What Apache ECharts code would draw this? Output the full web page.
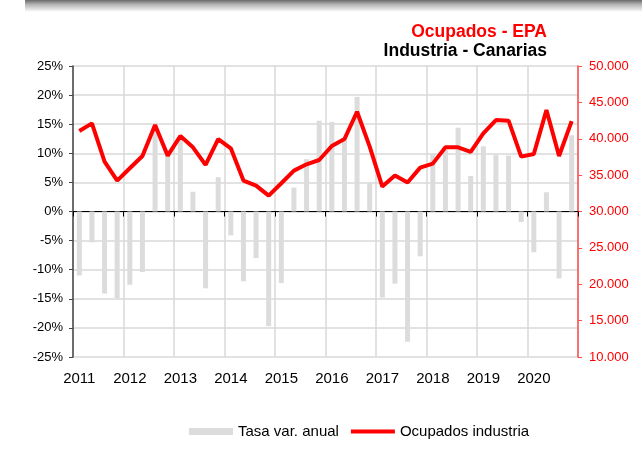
<!DOCTYPE html>
<html><head><meta charset="utf-8">
<script src="https://cdn.jsdelivr.net/npm/echarts@6/dist/echarts.min.js"></script>
<style>html,body{margin:0;padding:0;background:#fff}#c{width:642px;height:452px}</style>
</head><body><div id="c"></div>
<script>
const years = ['2011','2012','2013','2014','2015','2016','2017','2018','2019','2020'];
const quarters = ['I','II','III','IV'];
const categories = [];
years.forEach(y => quarters.forEach(q => categories.push(y + ' ' + q)));
const tasaVar = [ -11.0, -5.3, -14.1, -14.9,  -12.6, -10.4, 14.5, 9.8,  12.3, 3.4, -13.2, 5.9,
  -4.1, -12.0, -8.0, -19.7,  -12.3, 4.1, 9.0, 15.6,  15.4, 12.5, 19.7, 5.0,
  -14.8, -12.4, -22.4, -7.7,  10.0, 10.6, 14.4, 6.1,  11.2, 9.7, 9.6, -1.8,
  -7.0, 3.3, -11.5, 13.1 ];
const ocupados = [ 41060, 42110, 36850, 34250,  35940, 37630, 41880, 37680,  40370, 38820, 36400, 39960,
  38680, 34250, 33560, 32190,  33880, 35620, 36490, 37080,  39000, 39960, 43710, 38910,
  33430, 34940, 33980, 36030,  36580, 38820, 38820, 38180,  40740, 42570, 42480, 37540,
  37910, 43940, 37630, 42430 ];
const leftTicks = {min:-25, max:25, step:5};
const rightTicks = {min:10000, max:50000, step:5000};

const chart = echarts.init(document.getElementById('c'), null, {renderer:'canvas'});
const fmtThousands = v => String(v).replace(/\B(?=(\d{3})+(?!\d))/g, '.');
chart.setOption({
  animation:false,
  backgroundColor:'#fff',
  textStyle:{fontFamily:'Liberation Sans, Arial, sans-serif'},
  graphic:[
    {type:'rect', left:25, top:0, shape:{width:617, height:12}, z:0,
     style:{fill:new echarts.graphic.LinearGradient(0,0,0,1,[{offset:0,color:'#6a6a6a'},{offset:0.35,color:'#b0b0b0'},{offset:1,color:'#ffffff'}])}},
    {type:'text', right:95, top:23, z:10, style:{text:'Ocupados - EPA', fill:'#ff0000', font:'bold 17.5px "Liberation Sans", Arial, sans-serif', textAlign:'right'}},
    {type:'text', right:95, top:42, z:10, style:{text:'Industria - Canarias', fill:'#000', font:'bold 17.5px "Liberation Sans", Arial, sans-serif', textAlign:'right'}}
  ],
  grid:{left:73, right:64, top:66, bottom:95, containLabel:false},
  legend:{
    left:189, top:424, padding:0, itemWidth:44, itemHeight:7, itemGap:12,
    textStyle:{fontSize:15, color:'#000'},
    data:[{name:'Tasa var. anual', icon:'rect'},
          {name:'Ocupados industria', icon:'path://M0,0 L44,0 L44,4 L0,4 Z'}]
  },
  xAxis:[
    {type:'category', data:categories, boundaryGap:true, position:'bottom',
     axisLine:{show:false, onZero:false}, axisTick:{show:false},
     axisLabel:{interval:3, fontSize:15, color:'#000', margin:14, formatter:v => v.split(' ')[0]},
     splitLine:{show:true, interval:3, lineStyle:{color:'#d9d9d9', width:1.5}}},
    {type:'category', data:categories, boundaryGap:true, position:'bottom',
     axisLine:{show:true, onZero:true, onZeroAxisIndex:0, lineStyle:{color:'#000', width:1}},
     axisTick:{show:true, interval:3, length:5, lineStyle:{color:'#000'}},
     axisLabel:{show:false}, splitLine:{show:false}}
  ],
  yAxis:[
    {type:'value', min:leftTicks.min, max:leftTicks.max, interval:leftTicks.step, position:'left',
     axisLine:{show:true, lineStyle:{color:'#444', width:1.5}},
     axisTick:{show:true, length:4, lineStyle:{color:'#444'}},
     axisLabel:{formatter:v => v + '%', fontSize:13, color:'#000', margin:10},
     splitLine:{show:true, lineStyle:{color:'#d9d9d9', width:1.5}}},
    {type:'value', min:rightTicks.min, max:rightTicks.max, interval:rightTicks.step, position:'right',
     axisLine:{show:true, lineStyle:{color:'#ff4d4d', width:1.5}},
     axisTick:{show:true, length:4, lineStyle:{color:'#ff4d4d'}},
     axisLabel:{formatter:v => fmtThousands(v), fontSize:13, color:'#ff0000', margin:11},
     splitLine:{show:false}}
  ],
  series:[
    {name:'Tasa var. anual', type:'bar', xAxisIndex:0, yAxisIndex:0, data:tasaVar, barWidth:5,
     itemStyle:{color:'#dcdcdc'}, z:2},
    {name:'Ocupados industria', type:'line', xAxisIndex:0, yAxisIndex:1, data:ocupados,
     symbol:'none', lineStyle:{color:'#ff0000', width:4}, itemStyle:{color:'#ff0000'}, z:5}
  ]
});
</script></body></html>
